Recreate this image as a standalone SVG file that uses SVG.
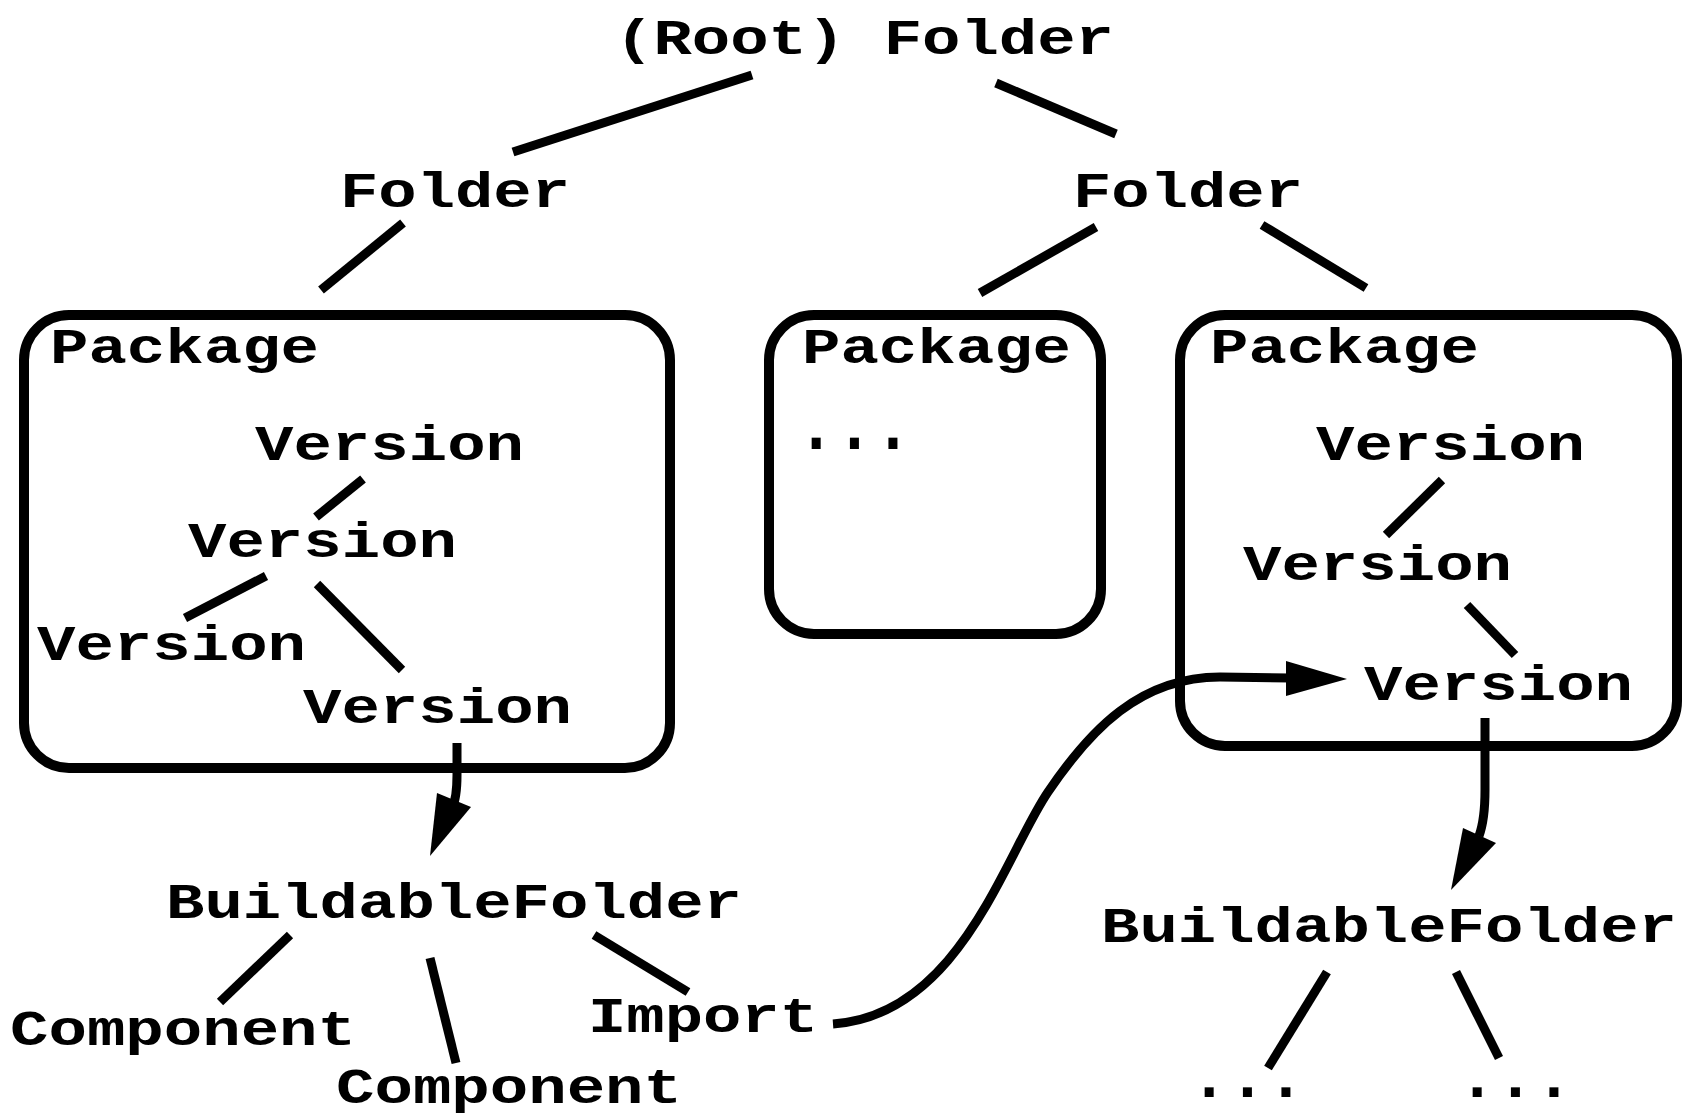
<svg xmlns="http://www.w3.org/2000/svg" width="1686" height="1117" viewBox="0 0 1686 1117">
<style>
.t{font-family:"Liberation Mono","DejaVu Sans Mono",monospace;font-weight:bold;font-size:50px;fill:#000}
.d{font-family:"Liberation Mono","DejaVu Sans Mono",monospace;font-weight:bold;font-size:76px;fill:#000}
.d2{font-family:"Liberation Mono","DejaVu Sans Mono",monospace;font-weight:bold;font-size:64px;fill:#000}
.box{fill:none;stroke:#000;stroke-width:10}
.c{fill:none;stroke:#000;stroke-width:9;stroke-linecap:butt}
.ah{fill:#000;stroke:none}
</style>
<rect width="1686" height="1117" fill="#fff"/>
<g id="connectors">
<line class="c" x1="752" y1="75" x2="513" y2="152"/>
<line class="c" x1="996" y1="83" x2="1116" y2="134"/>
<line class="c" x1="403" y1="223" x2="321" y2="290"/>
<line class="c" x1="1096" y1="227" x2="980" y2="293"/>
<line class="c" x1="1262" y1="225" x2="1366" y2="288"/>
<line class="c" x1="363" y1="479" x2="316" y2="517"/>
<line class="c" x1="266" y1="576" x2="185" y2="618"/>
<line class="c" x1="317" y1="584" x2="402" y2="670"/>
<line class="c" x1="1442" y1="480" x2="1386" y2="535"/>
<line class="c" x1="1467" y1="605" x2="1515" y2="655"/>
<path class="c" d="M457,743 L457,775 C457,790 456,800 452,808"/>
<polygon class="ah" points="437,793 471,807 430,856"/>
<path class="c" d="M1485,718 L1485,790 C1485,812 1483,825 1479,836"/>
<polygon class="ah" points="1463,828 1496,843 1451,890"/>
<line class="c" x1="290" y1="935" x2="220" y2="1002"/>
<line class="c" x1="430" y1="958" x2="456" y2="1063"/>
<line class="c" x1="594" y1="935" x2="688" y2="992"/>
<line class="c" x1="1327" y1="972" x2="1268" y2="1068"/>
<line class="c" x1="1456" y1="972" x2="1499" y2="1058"/>
<path class="c" d="M833,1024 C960,1015 1005,855 1048,792 C1090,730 1140,677 1220,677 L1290,678"/>
<polygon class="ah" points="1286,661 1347,679 1286,696"/>
</g>
<g id="root-folder"><text class="t" x="615" y="54" textLength="499" lengthAdjust="spacingAndGlyphs">(Root) Folder</text></g>
<g id="folder-left"><text class="t" x="340" y="207" textLength="230" lengthAdjust="spacingAndGlyphs">Folder</text></g>
<g id="folder-right"><text class="t" x="1073" y="207" textLength="230" lengthAdjust="spacingAndGlyphs">Folder</text></g>
<g id="package-left">
<rect class="box" x="24" y="315" width="646" height="453" rx="45"/>
<text class="t" x="50" y="363" textLength="269" lengthAdjust="spacingAndGlyphs">Package</text>
</g>
<g id="package-middle">
<rect class="box" x="769" y="315" width="332" height="319" rx="45"/>
<text class="t" x="802" y="363" textLength="269" lengthAdjust="spacingAndGlyphs">Package</text>
<text class="d" x="797" y="449" textLength="115" lengthAdjust="spacingAndGlyphs">...</text>
</g>
<g id="package-right">
<rect class="box" x="1180" y="315" width="497" height="431" rx="45"/>
<text class="t" x="1210" y="363" textLength="269" lengthAdjust="spacingAndGlyphs">Package</text>
</g>
<g id="version-l1"><text class="t" x="255" y="460" textLength="269" lengthAdjust="spacingAndGlyphs">Version</text></g>
<g id="version-l2"><text class="t" x="188" y="557" textLength="269" lengthAdjust="spacingAndGlyphs">Version</text></g>
<g id="version-l3"><text class="t" x="37" y="660" textLength="269" lengthAdjust="spacingAndGlyphs">Version</text></g>
<g id="version-l4"><text class="t" x="303" y="723" textLength="269" lengthAdjust="spacingAndGlyphs">Version</text></g>
<g id="version-r1"><text class="t" x="1316" y="460" textLength="269" lengthAdjust="spacingAndGlyphs">Version</text></g>
<g id="version-r2"><text class="t" x="1243" y="580" textLength="269" lengthAdjust="spacingAndGlyphs">Version</text></g>
<g id="version-r3"><text class="t" x="1364" y="700" textLength="269" lengthAdjust="spacingAndGlyphs">Version</text></g>
<g id="buildable-left"><text class="t" x="166" y="918" textLength="576" lengthAdjust="spacingAndGlyphs">BuildableFolder</text></g>
<g id="buildable-right"><text class="t" x="1101" y="942" textLength="576" lengthAdjust="spacingAndGlyphs">BuildableFolder</text></g>
<g id="component-1"><text class="t" x="10" y="1045" textLength="346" lengthAdjust="spacingAndGlyphs">Component</text></g>
<g id="component-2"><text class="t" x="336" y="1103" textLength="346" lengthAdjust="spacingAndGlyphs">Component</text></g>
<g id="import"><text class="t" x="588" y="1032" textLength="230" lengthAdjust="spacingAndGlyphs">Import</text></g>
<g id="more-1"><text class="d2" x="1190" y="1097" textLength="115" lengthAdjust="spacingAndGlyphs">...</text></g>
<g id="more-2"><text class="d2" x="1458" y="1097" textLength="115" lengthAdjust="spacingAndGlyphs">...</text></g>
</svg>
